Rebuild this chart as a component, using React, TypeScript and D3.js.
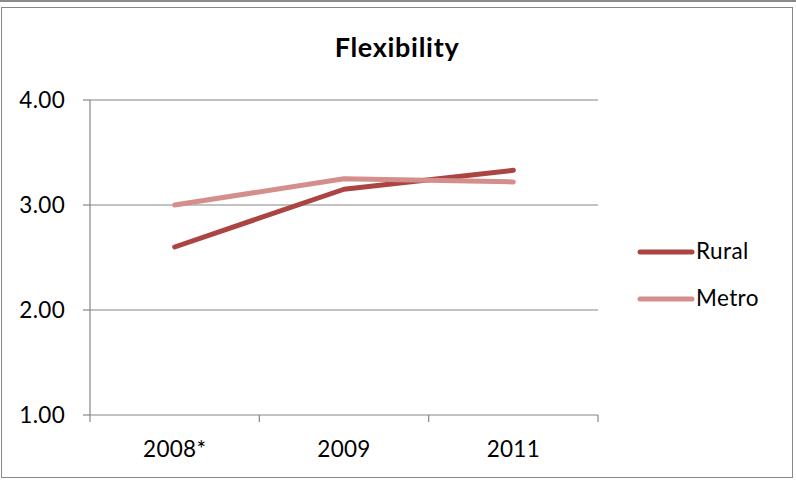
import React from "react";
import * as d3 from "d3";

const categories = ["2008*", "2009", "2011"];
const rural = [2.6, 3.15, 3.33];
const metro = [3.0, 3.25, 3.22];
const yTicks = [1, 2, 3, 4];
const seriesNames = ["Rural", "Metro"];
const colors = ["#AB4543", "#D48E8C"];

export default function App() {
  const W = 796, H = 481;
  const left = 90, right = 598, top = 100, bottom = 415;
  const x = d3.scaleBand().domain(categories).range([left, right]);
  const y = d3.scaleLinear().domain([1, 4]).range([bottom, top]);
  const line = d3.line<number>().x((_, i) => (x(categories[i]) as number) + x.bandwidth() / 2).y(d => y(d));
  const series = [rural, metro];
  const font = "Lato, 'Open Sans', sans-serif";
  const fs = 22.5;
  const boundaries = [...categories.map(c => x(c) as number), right];
  return (
    <svg width={W} height={H} style={{ position: "absolute", left: 0, top: 0 }} fontFamily={font}>
      <rect x={0} y={0} width={W} height={H} fill="#fff" />
      <rect x={0} y={0} width={W} height={2} fill="#8a8a8a" />
      <rect x={1.5} y={7.5} width={791} height={470} fill="none" stroke="#888" strokeWidth={1} />
      <text x={397} y={57} textAnchor="middle" fontSize={27} fontWeight="bold" letterSpacing={0.7}>Flexibility</text>
      {yTicks.map(t => (
        <g key={t}>
          {t > 1 && <line x1={left} x2={right} y1={y(t)} y2={y(t)} stroke="#868686" strokeWidth={1.2} />}
          <line x1={left - 7} x2={left} y1={y(t)} y2={y(t)} stroke="#868686" strokeWidth={1.2} />
          <text x={65} y={y(t) + 7.5} textAnchor="end" fontSize={fs} letterSpacing={0.3}>{t.toFixed(2)}</text>
        </g>
      ))}
      <line x1={left} x2={left} y1={top} y2={bottom} stroke="#868686" strokeWidth={1.2} />
      <line x1={left} x2={right} y1={bottom} y2={bottom} stroke="#868686" strokeWidth={1.2} />
      {boundaries.map((b, i) => (
        <line key={i} x1={b} x2={b} y1={bottom} y2={bottom + 7} stroke="#868686" strokeWidth={1.2} />
      ))}
      {categories.map(c => (
        <text key={c} x={(x(c) as number) + x.bandwidth() / 2} y={457} textAnchor="middle" fontSize={fs} letterSpacing={0.3}>{c}</text>
      ))}
      {series.map((s, i) => (
        <path key={i} d={line(s) || ""} fill="none" stroke={colors[i]} strokeWidth={5} strokeLinecap="round" strokeLinejoin="round" />
      ))}
      {seriesNames.map((n, i) => (
        <g key={n}>
          <line x1={640} x2={692} y1={252 + i * 47} y2={252 + i * 47} stroke={colors[i]} strokeWidth={5} strokeLinecap="round" />
          <text x={696} y={259 + i * 47} fontSize={fs} letterSpacing={0.4}>{n}</text>
        </g>
      ))}
    </svg>
  );
}
